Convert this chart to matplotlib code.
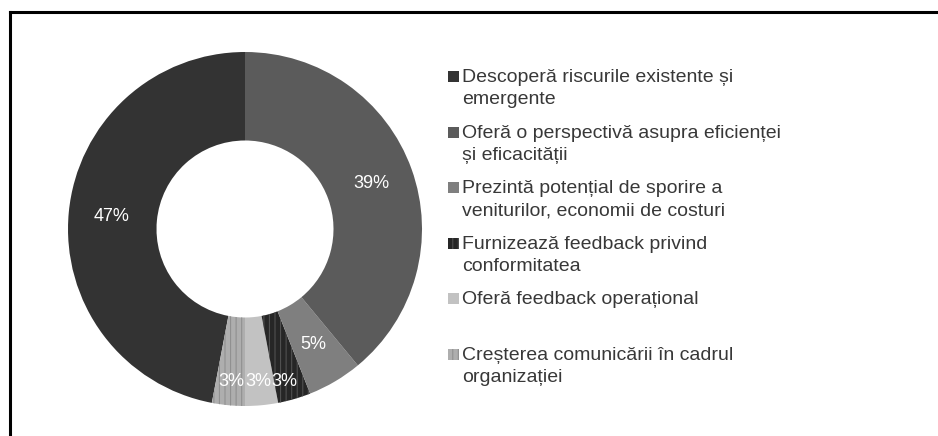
import matplotlib
matplotlib.use("Agg")
import matplotlib.pyplot as plt
from matplotlib.lines import Line2D
from matplotlib.patches import Rectangle
import numpy as np

categories = [
    "Descoperă riscurile existente și\nemergente",
    "Oferă o perspectivă asupra eficienței\nși eficacității",
    "Prezintă potențial de sporire a\nveniturilor, economii de costuri",
    "Furnizează feedback privind\nconformitatea",
    "Oferă feedback operațional",
    "Creșterea comunicării în cadrul\norganizației",
]
# pie order (counter-clockwise from top)
pie_order = [0, 5, 4, 3, 2, 1]
values = [47, 39, 5, 3, 3, 3]
pct_labels = ["47%", "39%", "5%", "3%", "3%", "3%"]

colors = ["#333333", "#5b5b5b", "#7f7f7f", "#262626", "#c2c2c2", "#aeaeae"]
hatches = [None, None, None, "|||", None, "|||"]
hatch_colors = [None, None, None, "#505050", None, "#909090"]

plt.rcParams['font.family'] = ['Liberation Sans', 'DejaVu Sans']
plt.rcParams['hatch.linewidth'] = 0.8

W, H = 938, 436
fig = plt.figure(figsize=(W / 100, H / 100), dpi=100)
fig.patch.set_facecolor("white")

cx, cy, R = 245, 229, 177
ax = fig.add_axes([(cx - R) / W, (H - cy - R) / H, 2 * R / W, 2 * R / H])

vals = [values[i] for i in pie_order]
cols = [colors[i] for i in pie_order]
wedges, _ = ax.pie(vals, colors=cols, startangle=90, counterclock=True,
                   radius=1.0, wedgeprops=dict(width=0.5, linewidth=0))
for w, i in zip(wedges, pie_order):
    if hatches[i]:
        w.set_hatch(hatches[i])
        w.set_edgecolor(hatch_colors[i])
        w.set_linewidth(0)

# percentage labels
for w, i in zip(wedges, pie_order):
    ang = np.deg2rad((w.theta1 + w.theta2) / 2)
    if values[i] >= 5:
        x, y = 0.76 * np.cos(ang), 0.76 * np.sin(ang)
    else:
        x, y = 0.8 * np.cos(ang), -0.86
    ax.text(x, y, pct_labels[i], ha="center", va="center", color="white",
            fontsize=13)

ax.set_xlim(-1, 1)
ax.set_ylim(-1, 1)
ax.set_aspect("auto")
ax.axis("off")

# legend (manual)
base0 = 82
step = 55.6
pitch = 22
sq = 11
for k, lab in enumerate(categories):
    b = base0 + k * step
    fig.add_artist(Rectangle((448 / W, (H - b) / H), sq / W, sq / H,
                             transform=fig.transFigure, facecolor=colors[k],
                             edgecolor=hatch_colors[k] if hatches[k] else "none",
                             hatch=hatches[k], linewidth=0))
    for j, line in enumerate(lab.split("\n")):
        fig.text(462 / W, (H - b - j * pitch) / H, line, ha="left", va="baseline",
                 fontsize=14, color="#383838")

# frame lines (top and left)
fig.add_artist(Line2D([9.5 / W, 1.0], [(H - 12.5) / H] * 2, transform=fig.transFigure,
                      color="black", linewidth=2.2))
fig.add_artist(Line2D([10 / W] * 2, [0, (H - 12.5) / H], transform=fig.transFigure,
                      color="black", linewidth=2.2))

fig.savefig("out.png", dpi=100, facecolor="white")
